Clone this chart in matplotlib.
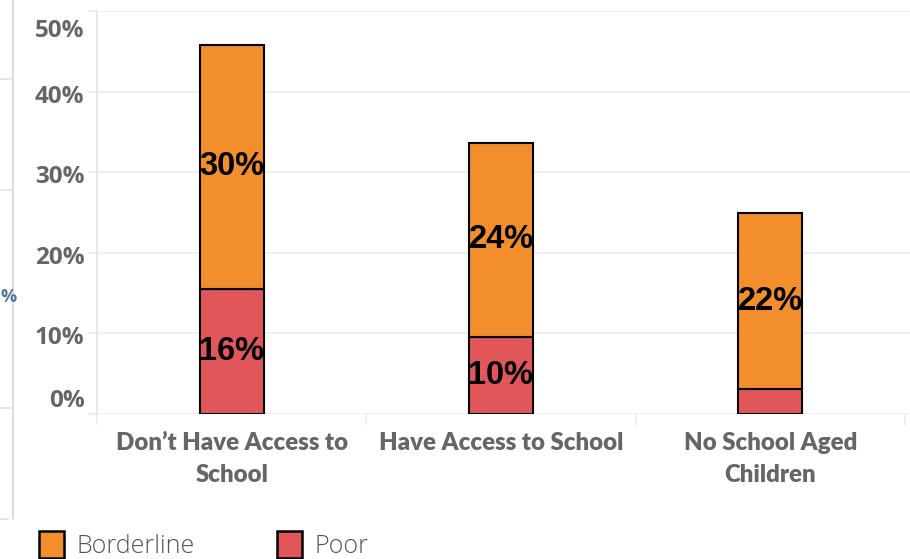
import matplotlib
matplotlib.use("Agg")
import matplotlib.pyplot as plt
from matplotlib.patches import Patch
from matplotlib.lines import Line2D
from matplotlib.transforms import ScaledTranslation
from matplotlib.font_manager import FontProperties

categories = ["Don\u2019t Have Access to\nSchool", "Have Access to School", "No School Aged\nChildren"]
poor = [15.5, 9.6, 3.1]
borderline = [30.3, 24.0, 21.8]
yticks = [0, 10, 20, 30, 40, 50]
ytick_labels = ["0%", "10%", "20%", "30%", "40%", "50%"]
series_names = ["Borderline", "Poor"]

ORANGE = "#F28E2B"
RED = "#E15759"
GRID = "#efefef"
TICKGRAY = "#666666"

cat_fp = FontProperties(family="Lato", weight="heavy", size=17.3)
tick_fp = FontProperties(family="Open Sans", weight="bold", size=17.5)
lab_fp = FontProperties(family="Liberation Sans", weight="bold", size=23.5)
leg_fp = FontProperties(family="Open Sans", weight="light", size=18)

W, H = 910, 559
fig = plt.figure(figsize=(W / 100, H / 100), dpi=100)
left, right = 97 / W, 1.0
bottom, top = 1 - 414 / H, 1 - 11 / H
ax = fig.add_axes([left, bottom, right - left, top - bottom])

x = list(range(len(categories)))
bw = 64 / 269.3
ax.bar(x, poor, width=bw, color=RED, edgecolor="black", linewidth=1.5, zorder=3)
ax.bar(x, borderline, width=bw, bottom=poor, color=ORANGE, edgecolor="black", linewidth=1.5, zorder=3)

for i in x:
    if poor[i] >= 5:
        ax.text(i, poor[i] / 2, f"{round(poor[i]):d}%", ha="center", va="center",
                fontproperties=lab_fp, color="black", zorder=4)
    if borderline[i] >= 5:
        ax.text(i, poor[i] + borderline[i] / 2, f"{round(borderline[i]):d}%", ha="center", va="center",
                fontproperties=lab_fp, color="black", zorder=4)

ax.set_ylim(0, 50)
ax.set_xlim(-0.5, 2.5 + 5 / 269.3)
ax.set_yticks(yticks)
ax.set_yticklabels(ytick_labels, fontproperties=tick_fp, color=TICKGRAY)
ax.tick_params(axis="y", length=6.5, color=GRID, width=1.5, pad=2.5)
ax.yaxis.grid(True, color=GRID, linewidth=1.5, zorder=0)

offsets = {0: 16 / 100, 50: -17 / 100}
for val, lab in zip(yticks, ax.get_yticklabels()):
    dy = offsets.get(val, -2 / 100)
    lab.set_transform(lab.get_transform() + ScaledTranslation(0, dy, fig.dpi_scale_trans))

ax.set_xticks(x)
ax.set_xticklabels(categories, fontproperties=cat_fp, color=TICKGRAY, linespacing=1.55)
ax.tick_params(axis="x", which="major", length=0, pad=13)
ax.set_xticks([-0.5, 0.5, 1.5, 2.5], minor=True)
ax.tick_params(axis="x", which="minor", length=8, color=GRID, width=1.5)

for s in ["top", "right", "bottom"]:
    ax.spines[s].set_visible(False)
ax.spines["left"].set_color("#e4e4e4")
ax.spines["left"].set_linewidth(1.2)

# legend
handles = [Patch(facecolor=ORANGE, edgecolor="black", linewidth=1.8),
           Patch(facecolor=RED, edgecolor="black", linewidth=1.8)]
fig.legend(handles, series_names, loc="lower left", bbox_to_anchor=(39 / W, 1 - 559 / H), ncol=2,
           frameon=False, borderpad=0, borderaxespad=0, handlelength=1.0, handleheight=1.3,
           handletextpad=0.5, columnspacing=3.3, prop=leg_fp, labelcolor="#555555")

# remnants of neighbouring view at the left edge
def fline(xs, ys, **kw):
    fig.add_artist(Line2D([a / W for a in xs], [1 - b / H for b in ys], transform=fig.transFigure, **kw))

fline([13, 13], [0, 519], color="#d6d6d6", linewidth=1.2)
for yy in [79, 190, 408]:
    fline([0, 13], [yy, yy], color="#e2e2e2", linewidth=1.2)
fline([0, 8], [519, 519], color="#e2e2e2", linewidth=1.2)
fig.text(0.5 / W, 1 - 297 / H, "%", ha="left", va="center", fontsize=13, fontweight="bold",
         family="Open Sans", color="#4e79a7")

fig.savefig("out.png", dpi=100)
